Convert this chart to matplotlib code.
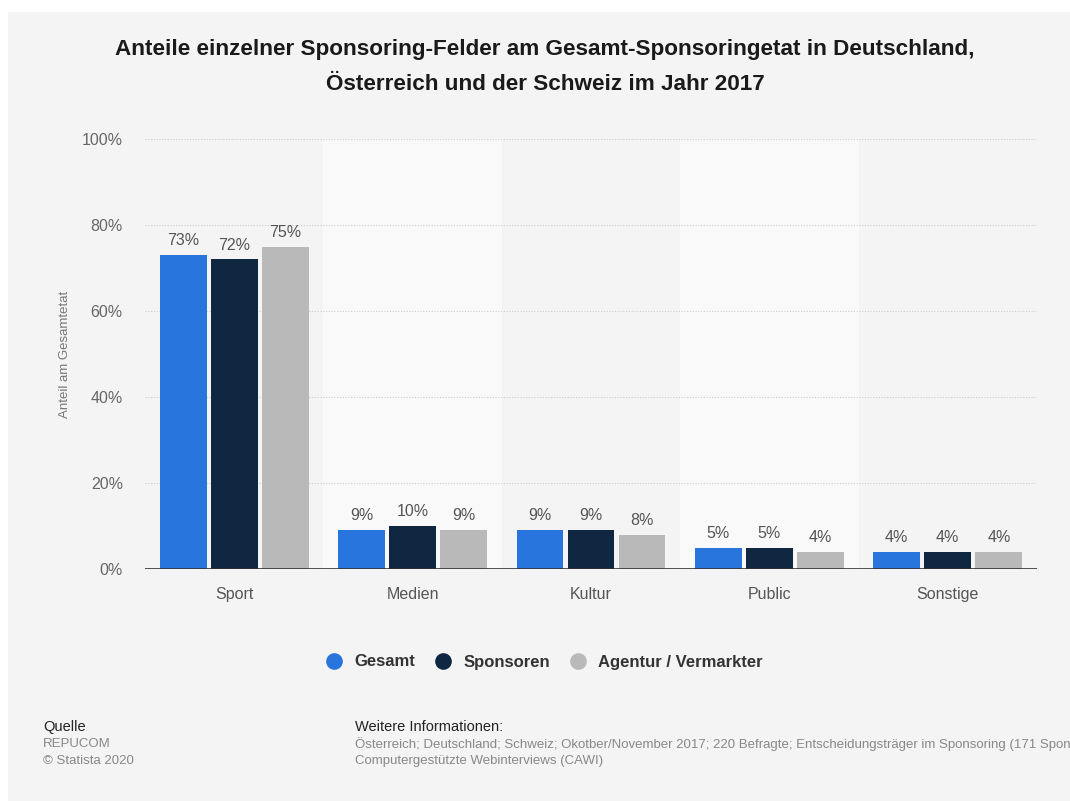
import numpy as np
import matplotlib
matplotlib.use("Agg")
import matplotlib.pyplot as plt
from matplotlib.patches import Rectangle
from matplotlib.lines import Line2D

plt.rcParams['font.family'] = ['Liberation Sans', 'DejaVu Sans']

categories = ['Sport', 'Medien', 'Kultur', 'Public', 'Sonstige']
series_names = ['Gesamt', 'Sponsoren', 'Agentur / Vermarkter']
gesamt = [73, 9, 9, 5, 4]
sponsoren = [72, 10, 9, 5, 4]
agentur = [75, 9, 8, 4, 4]
colors = ['#2876dd', '#0f2741', '#b9b9b9']
yticks = [0, 20, 40, 60, 80, 100]

W, H = 1070, 801
fig = plt.figure(figsize=(W / 100, H / 100), dpi=100)
fig.patch.set_facecolor('white')
# grey card behind the chart
fig.patches.append(Rectangle((8 / W, 0), 1 - 8 / W, 1 - 12 / H, transform=fig.transFigure,
                             facecolor='#f4f4f4', edgecolor='none', zorder=-5))

ax = fig.add_axes([145 / W, (H - 569) / H, (1037 - 145) / W, (569 - 139) / H])
ax.set_facecolor('none')
x = np.arange(len(categories))
ax.set_xlim(-0.5, len(categories) - 0.5)
ax.set_ylim(0, 100)

# alternating column bands
for i in range(len(categories)):
    if i % 2 == 1:
        ax.axvspan(i - 0.5, i + 0.5, ymin=0, ymax=1, color='#f9f9f9', zorder=0, lw=0)

for y in yticks[1:]:
    ax.axhline(y, color='#cccccc', lw=0.8, ls=(0, (1, 1.5)), zorder=1)

width = 0.263
step = 0.286
for k, (vals, c) in enumerate(zip([gesamt, sponsoren, agentur], colors)):
    pos = x + (k - 1) * step
    ax.bar(pos, vals, width=width, color=c, zorder=2, edgecolor='none')
    for p, v in zip(pos, vals):
        ax.text(p, v + 1.6, f'{v}%', ha='center', va='bottom', fontsize=11.5, color='#555555')

ax.axhline(0, color='#333333', lw=1.2, zorder=3)
for s in ax.spines.values():
    s.set_visible(False)
ax.set_yticks(yticks)
ax.set_yticklabels([f'{t}%' for t in yticks], fontsize=11.5, color='#666666')
ax.set_xticks(x)
ax.set_xticklabels(categories, fontsize=11.5, color='#555555')
ax.tick_params(length=0)
ax.tick_params(axis='y', pad=16)
ax.tick_params(axis='x', pad=13)
ax.set_ylabel('Anteil am Gesamtetat', fontsize=9.5, color='#777777', labelpad=8)

fig.text(545 / W, 1 - 50 / H, 'Anteile einzelner Sponsoring-Felder am Gesamt-Sponsoringetat in Deutschland,',
         ha='center', va='center', fontsize=16.2, fontweight='bold', color='#1a1a1a')
fig.text(545 / W, 1 - 84 / H, 'Österreich und der Schweiz im Jahr 2017',
         ha='center', va='center', fontsize=16.2, fontweight='bold', color='#1a1a1a')

handles = [Line2D([], [], marker='o', ls='none', markersize=12, markerfacecolor=c,
                  markeredgecolor='none') for c in colors]
leg = fig.legend(handles, series_names, loc='center', bbox_to_anchor=(0.505, 1 - 662 / H),
                 ncol=3, frameon=False, handletextpad=0.2, columnspacing=0.7,
                 prop={'weight': 'bold', 'size': 12})
for t in leg.get_texts():
    t.set_color('#333333')

fig.text(43 / W, 1 - 727 / H, 'Quelle', fontsize=10.5, color='#222222', va='center')
fig.text(43 / W, 1 - 744 / H, 'REPUCOM', fontsize=9.5, color='#888888', va='center')
fig.text(43 / W, 1 - 761 / H, '© Statista 2020', fontsize=9.5, color='#888888', va='center')
fig.text(355 / W, 1 - 727 / H, 'Weitere Informationen:', fontsize=10.5, color='#222222', va='center')
# the reference cuts this line off at the right edge
fig.text(355 / W, 1 - 744 / H,
         'Österreich; Deutschland; Schweiz; Okotber/November 2017; 220 Befragte; Entscheidungsträger im Sponsoring (171 Sponsoren)',
         fontsize=9.5, color='#888888', va='center')
fig.text(355 / W, 1 - 761 / H, 'Computergestützte Webinterviews (CAWI)', fontsize=9.5, color='#888888', va='center')

fig.savefig('out.png', dpi=100, facecolor=fig.get_facecolor())
